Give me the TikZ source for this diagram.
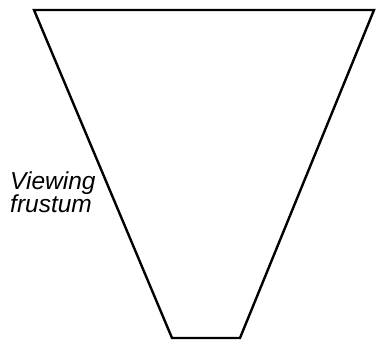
\documentclass[tikz,border=0pt]{standalone}
\usepackage{fontspec}
\setmainfont{Liberation Sans}
\begin{document}
\begin{tikzpicture}[x=1pt,y=-1pt,
  edge/.style={line width=2.4pt,line join=miter,black},
  lbl/.style={font=\fontsize{24.5}{23}\selectfont\itshape,inner sep=0pt,align=left,anchor=base west}]
\useasboundingbox (0,0) rectangle (377,340);
\coordinate (tl) at (34,10);
\coordinate (tr) at (374,10);
\coordinate (br) at (240,338);
\coordinate (bl) at (172,338);
\draw[edge] (tl) -- (tr) -- (br) -- (bl) -- cycle;
\node[lbl] (label) at (10,212) {Viewing\\frustum};
\end{tikzpicture}
\end{document}
